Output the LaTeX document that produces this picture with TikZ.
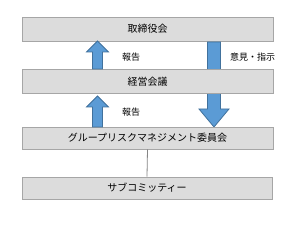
\documentclass[tikz,border=0pt]{standalone}
\usepackage{fontspec}
\setmainfont{Noto Sans CJK JP}
\usepackage{tikz}
\usetikzlibrary{calc}
\definecolor{boxgray}{HTML}{DCDCDC}
\definecolor{boxline}{HTML}{A6A6A6}
\definecolor{arrowblue}{HTML}{5B9BD5}
\definecolor{arrowline}{HTML}{41719C}
\tikzset{
  box/.style={draw=boxline, fill=boxgray, line width=0.8pt, minimum width=251pt, minimum height=24pt, inner sep=0pt, font=\fontsize{10}{12}\selectfont},
  blockarrow/.style={draw=arrowline, fill=arrowblue, line width=0.8pt, line join=miter},
  lbl/.style={font=\fontsize{9}{11}\selectfont, inner sep=0pt, anchor=west}
}

\begin{document}
\begin{tikzpicture}[x=1pt,y=-1pt]
\fill[white] (0,0) rectangle (300,229);
\useasboundingbox (0,0) rectangle (300,229);
% Boxes
\node[box] (torishimari) at (147.5,29) {取締役会};
% Downward arrow (behind the second box)
\draw[blockarrow] (207.5,42) -- (220.5,42) -- (220.5,109) -- (229,109) -- (214,127) -- (199,109) -- (207.5,109) -- cycle;
\node[box] (keiei) at (147.5,81.5) {経営会議};
\node[box, minimum height=22pt] (iinkai) at (147.5,138) {グループリスクマネジメント委員会};
\node[box, minimum height=22pt, minimum width=250pt] (sub) at (147,188) {サブコミッティー};
% Upward arrows
\draw[blockarrow] (97.5,41) -- (108.5,52) -- (102.5,52) -- (102.5,69) -- (92.5,69) -- (92.5,52) -- (86.5,52) -- cycle;
\draw[blockarrow] (97.5,96) -- (108.5,107) -- (102.5,107) -- (102.5,127) -- (92.5,127) -- (92.5,107) -- (86.5,107) -- cycle;
% Labels
\node[lbl] (hokoku1) at (122,57) {報告};
\node[lbl] (hokoku2) at (122,112) {報告};
\node[lbl] (iken) at (230,57) {意見・指示};
% Line
\draw[boxline!80!black, line width=0.8pt] (iinkai.south) -- (sub.north);
\end{tikzpicture}
\end{document}
